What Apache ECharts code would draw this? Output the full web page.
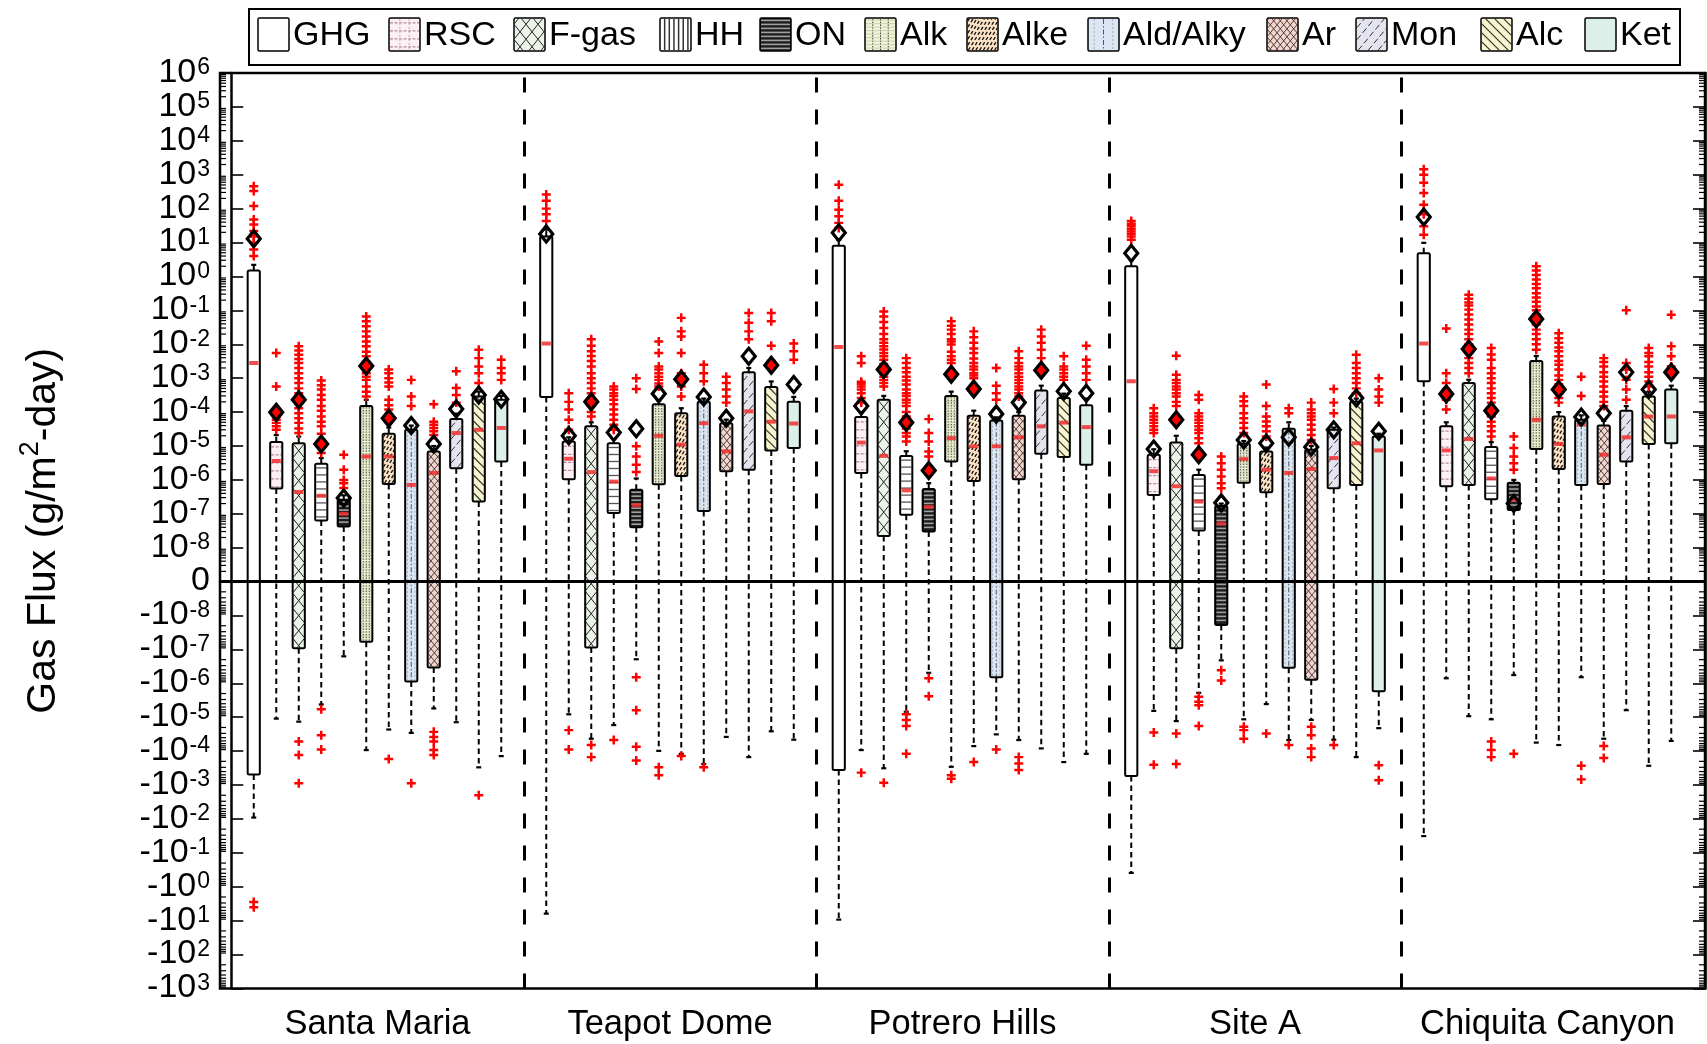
<!DOCTYPE html>
<html><head><meta charset="utf-8">
<script src="https://cdn.jsdelivr.net/npm/echarts@6/dist/echarts.min.js"></script>
<style>html,body{margin:0;padding:0;background:#fff}#c{width:1707px;height:1044px}</style>
</head><body><div id="c"></div>
<script>
// ---------------- DATA ----------------
const sites = ['Santa Maria', 'Teapot Dome', 'Potrero Hills', 'Site A', 'Chiquita Canyon'];
const groups = ['GHG', 'RSC', 'F-gas', 'HH', 'ON', 'Alk', 'Alke', 'Ald/Alky', 'Ar', 'Mon', 'Alc', 'Ket'];
// tick labels: exponents of positive and negative decades
const posExponents = [-8, -7, -6, -5, -4, -3, -2, -1, 0, 1, 2, 3, 4, 5, 6];
const negExponents = [-8, -7, -6, -5, -4, -3, -2, -1, 0, 1, 2, 3];

// each row = one site, 12 groups in legend order (g/m2-day)
const whiskerLow = [
  -9.1e-3, -1.1e-5, -1.35e-5, -4.2e-6, -1.6e-7, -9.3e-5, -2.3e-5, -2.9e-5, -5.5e-6, -1.4e-5, -3e-4, -1.4e-4,
  -6.2, -8.2e-6, -4.3e-5, -1.7e-5, -1.95e-7, -9.8e-5, -1.2e-4, -2.4e-4, -3.8e-5, -1.5e-4, -2.6e-5, -4.6e-5,
  -9.3, -9.3e-5, -3.2e-4, -6.9e-6, -4.9e-7, -2.9e-4, -7.1e-5, -3.2e-5, -4.7e-5, -8.3e-5, -2.1e-4, -1.2e-4,
  -0.39, -6.5e-6, -1.3e-5, -1.9e-6, -2.1e-7, -1.15e-5, -4.1e-6, -4.7e-5, -1.2e-5, -4.6e-5, -1.5e-4, -2.1e-5,
  -3.2e-2, -7.1e-7, -9.3e-6, -1.15e-5, -5.7e-7, -5.6e-5, -6.6e-5, -6.6e-7, -4.3e-5, -6.2e-6, -2.7e-4, -5e-5
];
const boxLow = [
  -4.9e-4, 5.6e-7, -9.3e-8, 6.3e-8, 4.2e-8, -5.9e-8, 7.6e-7, -8.9e-7, -3.4e-7, 2.2e-6, 2.3e-7, 3.5e-6,
  2.8e-4, 1.05e-6, -8.7e-8, 1.05e-7, 4e-8, 7.4e-7, 1.3e-6, 1.2e-7, 1.8e-6, 2e-6, 7.4e-6, 8.7e-6,
  -3.6e-4, 1.6e-6, 2.2e-8, 9.3e-8, 3e-8, 3.5e-6, 9.3e-7, -6.6e-7, 1.05e-6, 5.9e-6, 4.7e-6, 2.8e-6,
  -5.4e-4, 3.6e-7, -9.3e-8, 3.2e-8, -1.9e-8, 8.3e-7, 4.3e-7, -3.5e-7, -7.9e-7, 5.7e-7, 7.1e-7, -1.7e-6,
  8.1e-4, 6.5e-7, 7.1e-7, 2.7e-7, 1.3e-7, 8.1e-6, 2.1e-6, 7.1e-7, 7.6e-7, 3.5e-6, 1.15e-5, 1.2e-5
];
const median = [
  2.8e-3, 3.6e-6, 4.4e-7, 3.4e-7, 1e-7, 4.9e-6, 4.9e-6, 7.1e-7, 1.6e-6, 2.4e-5, 3e-5, 3.4e-5,
  1.05e-2, 4.2e-6, 1.7e-6, 8.9e-7, 1.8e-7, 2e-5, 1.1e-5, 4.7e-5, 6.9e-6, 1.05e-4, 5.2e-5, 4.6e-5,
  8.3e-3, 1.26e-5, 5.1e-6, 4.9e-7, 1.6e-7, 1.7e-5, 9.8e-6, 9.8e-6, 1.8e-5, 3.8e-5, 4.9e-5, 3.6e-5,
  8.1e-4, 1.8e-6, 6.5e-7, 2.3e-7, 5.2e-8, 4.1e-6, 2e-6, 1.6e-6, 2.1e-6, 4.4e-6, 1.2e-5, 7.4e-6,
  1.05e-2, 7.4e-6, 1.6e-5, 1.1e-6, 2.6e-7, 5.9e-5, 1.15e-5, 4.3e-5, 5.5e-6, 1.8e-5, 7.4e-5, 7.4e-5
];
const boxHigh = [
  1.5, 1.3e-5, 1.2e-5, 3e-6, 2.6e-7, 1.5e-4, 2.3e-5, 3e-5, 6.9e-6, 6.3e-5, 2.9e-4, 2.3e-4,
  15, 1.35e-5, 3.8e-5, 1.2e-5, 5.1e-7, 1.7e-4, 9.3e-5, 2e-4, 4.7e-5, 1.5e-3, 5.5e-4, 2e-4,
  8.1, 7.1e-5, 2.3e-4, 5.1e-6, 5.4e-7, 3e-4, 7.8e-5, 5.6e-5, 7.8e-5, 4.3e-4, 2.6e-4, 1.6e-4,
  2, 5.5e-6, 1.26e-5, 1.4e-6, 1.7e-7, 1.17e-5, 6.9e-6, 3.2e-5, 7.8e-6, 3e-5, 2e-4, 1.9e-5,
  4.8, 3.8e-5, 7.2e-4, 9.3e-6, 8.3e-7, 3.2e-3, 7.4e-5, 5.9e-5, 4e-5, 1.1e-4, 2.9e-4, 4.6e-4
];
const whiskerHigh = [
  2.2, 2.1e-5, 1.9e-5, 4.4e-6, 3.5e-7, 2.3e-4, 3.5e-5, 4e-5, 1e-5, 9e-5, 4e-4, 3e-4,
  24, 1.8e-5, 5e-5, 1.6e-5, 1.1e-6, 2.2e-4, 1.3e-4, 2.5e-4, 6e-5, 2e-3, 8e-4, 2.8e-4,
  12, 1e-4, 3e-4, 7e-6, 8e-7, 4e-4, 1.1e-4, 7e-5, 1e-4, 6e-4, 3.5e-4, 2.5e-4,
  3, 8e-6, 2e-5, 2e-6, 2e-7, 1.4e-5, 9e-6, 5e-5, 1e-5, 3.5e-5, 2.5e-4, 2.3e-5,
  9.8, 5e-5, 9e-4, 1.3e-5, 1e-6, 4.5e-3, 1e-4, 8e-5, 5.5e-5, 1.5e-4, 4e-4, 6e-4
];
const mean = [
  13, 9.8e-5, 2.3e-4, 1.15e-5, 2.9e-7, 2.3e-3, 6.6e-5, 4e-5, 1.15e-5, 1.23e-4, 3.2e-4, 2.4e-4,
  18, 2e-5, 2e-4, 2.5e-5, 3.2e-5, 3.5e-4, 9.3e-4, 2.8e-4, 6.6e-5, 4.4e-3, 2.4e-3, 6.5e-4,
  19.5, 1.5e-4, 1.8e-3, 4.9e-5, 1.9e-6, 1.3e-3, 4.8e-4, 8.7e-5, 1.9e-4, 1.7e-3, 4.1e-4, 3.6e-4,
  4.8, 8.1e-6, 5.9e-5, 5.5e-6, 2.1e-7, 1.5e-5, 1.2e-5, 1.8e-5, 9.3e-6, 3e-5, 2.6e-4, 2.7e-5,
  57, 3.4e-4, 7.2e-3, 1.1e-4, 2e-7, 5.6e-2, 4.6e-4, 7.1e-5, 9.3e-5, 1.5e-3, 4.6e-4, 1.5e-3
];
// 1 = mean marker filled red, 0 = open
const meanFilled = [
  0, 1, 1, 1, 0, 1, 1, 0, 0, 0, 0, 0,
  0, 0, 1, 0, 0, 0, 1, 0, 0, 0, 1, 0,
  0, 0, 1, 1, 1, 1, 1, 0, 0, 1, 0, 0,
  0, 0, 1, 1, 0, 0, 0, 0, 0, 0, 0, 0,
  0, 1, 1, 1, 0, 1, 1, 0, 0, 0, 0, 1
];
const outliers = [
  // Santa Maria
  [4, 6.2, 9.8, 15, 22, 34, 48, 120, 330, 460, -2.8, -4],
  [3e-5, 3.8e-5, 4.8e-5, 5.9e-5, 7.4e-5, 9.3e-5, 5.7e-4, 5.5e-3],
  [2.4e-5, 3.3e-5, 4.8e-5, 6.6e-5, 9.3e-5, 1.3e-4, 1.9e-4, 2.6e-4, 3.6e-4, 5e-4, 7.2e-4, 1e-3, 1.4e-3, 2e-3, 2.8e-3, 3.7e-3, 4.9e-3, 6.5e-3, 8.7e-3, -5.2e-5, -1.3e-4, -8.9e-4],
  [6.2e-6, 9e-6, 1.5e-5, 2.3e-5, 3.8e-5, 5.2e-5, 7.4e-5, 1.1e-4, 1.5e-4, 2.3e-4, 3.2e-4, 4.6e-4, 6.2e-4, 8.5e-4, -5.8e-6, -3.4e-5, -8.9e-5],
  [5.8e-7, 7.9e-7, 1e-6, 2e-6, 5.5e-6],
  [2.9e-4, 4e-4, 5.7e-4, 8.9e-4, 1.1e-3, 1.4e-3, 2e-3, 3e-3, 4.4e-3, 6e-3, 8.7e-3, 1.2e-2, 1.7e-2, 2.4e-2, 3.4e-2, 4.8e-2, 6.6e-2],
  [1.2e-4, 1.6e-4, 2.3e-4, 5.7e-4, 7.5e-4, 1e-3, 1.4e-3, 1.8e-3, -1.7e-4],
  [1.5e-4, 2.9e-4, 8.9e-4, -8.9e-4],
  [2.1e-5, 2.7e-5, 3.4e-5, 4.2e-5, 5.2e-5, 1.7e-4, -2.7e-5, -3.8e-5, -5.2e-5, -9.3e-5, -1.3e-4],
  [1.9e-4, 3.2e-4, 5.1e-4, 1.6e-3],
  [7.2e-4, 1.4e-3, 2.2e-3, 3.9e-3, 6.9e-3, -2e-3],
  [8.9e-4, 1.4e-3, 2e-3, 3.5e-3],
  // Teapot Dome
  [43, 68, 100, 170, 260],
  [3e-5, 5.9e-5, 1.2e-4, 2e-4, 3.6e-4, -2.4e-5, -8.9e-5],
  [7.4e-5, 1e-4, 1.5e-4, 2.5e-4, 3.6e-4, 5e-4, 7.2e-4, 1e-3, 1.4e-3, 2.2e-3, 3.2e-3, 4.5e-3, 6.2e-3, 9e-3, 1.4e-2, -6.6e-5, -1.5e-4],
  [3e-5, 4.2e-5, 5.9e-5, 8.5e-5, 1.2e-4, 1.7e-4, 2.3e-4, 3e-4, 3.6e-4, 4.6e-4, 5.7e-4, -4.7e-5],
  [1.7e-6, 2.8e-6, 4.9e-6, 9.8e-6, 4.8e-4, 1e-3, -6.6e-7, -6.2e-6, -7.4e-5, -1.9e-4],
  [5.7e-4, 7e-4, 8.9e-4, 1.1e-3, 1.4e-3, 1.8e-3, 2.2e-3, 5.5e-3, 1.2e-2, -3e-4, -5.1e-4],
  [2.9e-4, 5.7e-4, 1.4e-3, 5.5e-3, 1.7e-2, 2.4e-2, 6e-2, -1.4e-4],
  [8.1e-4, 1.4e-3, 2.5e-3, -3e-4],
  [1.9e-4, 2.9e-4, 4.6e-4, 7.2e-4, 1.1e-3],
  [1.4e-2, 2.4e-2, 4.3e-2, 8.3e-2],
  [3.2e-3, 9.1e-3, 4.8e-2, 8.3e-2],
  [3.5e-3, 6.2e-3, 1.05e-2],
  // Potrero Hills
  [27, 38, 60, 93, 170, 510],
  [1.9e-4, 2.6e-4, 3.6e-4, 4.6e-4, 5.7e-4, 6.8e-4, 7.9e-4, 2.8e-3, 4.4e-3, -4.3e-4],
  [5.7e-4, 7.2e-4, 8.9e-4, 1.1e-3, 1.4e-3, 1.8e-3, 2.6e-3, 3.5e-3, 4.4e-3, 5.5e-3, 7e-3, 8.7e-3, 1.1e-2, 1.4e-2, 2e-2, 3e-2, 4.5e-2, 6.6e-2, 9.3e-2, -8.5e-4],
  [1.35e-5, 1.9e-5, 2.4e-5, 3.3e-5, 5e-5, 7.4e-5, 1e-4, 1.5e-4, 1.9e-4, 2.3e-4, 3e-4, 3.6e-4, 4.6e-4, 6.5e-4, 8.5e-4, 1.1e-3, 1.5e-3, 2e-3, 2.8e-3, 3.9e-3, -8.1e-6, -1.2e-5, -1.8e-5, -1.2e-4],
  [4.9e-6, 6.9e-6, 1.35e-5, 2.4e-5, 6.2e-5, -7.1e-7, -2.4e-6],
  [2.8e-3, 3.5e-3, 4.4e-3, 6e-3, 9.8e-3, 1.2e-2, 1.4e-2, 2e-2, 2.7e-2, 3.5e-2, 4.8e-2, -5.1e-4, -6.5e-4],
  [1e-3, 1.2e-3, 1.4e-3, 1.8e-3, 2.2e-3, 2.8e-3, 3.8e-3, 5.5e-3, 7.5e-3, 1.1e-2, 1.6e-2, 2.4e-2, -2.1e-4],
  [2.3e-4, 3.6e-4, 6e-4, 2e-3, -8.9e-5],
  [2.9e-4, 3.6e-4, 4.6e-4, 5.7e-4, 7.2e-4, 8.9e-4, 1.1e-3, 1.4e-3, 1.8e-3, 2.2e-3, 2.8e-3, 3.9e-3, 6.2e-3, -1.5e-4, -2.3e-4, -3.6e-4],
  [1.8e-3, 3.9e-3, 6.9e-3, 1.1e-2, 1.7e-2, 2.7e-2],
  [8.9e-4, 1.1e-3, 1.4e-3, 1.8e-3, 2.2e-3, 4.4e-3],
  [8.9e-4, 1.4e-3, 2.2e-3, 3.5e-3, 9.1e-3],
  // Site A
  [12, 15, 18, 21, 25, 30, 36, 43],
  [2.4e-5, 3e-5, 3.8e-5, 4.8e-5, 5.9e-5, 7.4e-5, 9.3e-5, 1.3e-4, -2.8e-5, -2.5e-4],
  [1.5e-4, 2e-4, 2.9e-4, 3.6e-4, 4.6e-4, 5.7e-4, 7.2e-4, 8.9e-4, 1.26e-3, 4.6e-3, -3e-5, -2.4e-4],
  [1.2e-5, 1.7e-5, 2.4e-5, 3e-5, 3.8e-5, 4.8e-5, 5.9e-5, 7.4e-5, 9.3e-5, 2.3e-4, 3.2e-4, -2.5e-6, -3.5e-6, -4.4e-6, -1.8e-5],
  [5.7e-7, 7.9e-7, 1.26e-6, 2e-6, 3.1e-6, 4.9e-6, -4.1e-7, -8.3e-7],
  [2.4e-5, 3.4e-5, 4.8e-5, 6.6e-5, 9.3e-5, 1.5e-4, 2.1e-4, 2.9e-4, -1.9e-5, -2.4e-5, -4.3e-5],
  [1.9e-5, 2.7e-5, 3.8e-5, 5.3e-5, 7.4e-5, 1.5e-4, 6.5e-4, -3e-5],
  [9.3e-5, 1.3e-4, -6.6e-5],
  [1.5e-5, 2.1e-5, 3e-5, 4.2e-5, 5.9e-5, 7.4e-5, 9.3e-5, 1.2e-4, 1.9e-4, -1.9e-5, -3.4e-5, -8.3e-5, -1.5e-4],
  [9.3e-5, 1.9e-4, 4.8e-4, -6.6e-5],
  [3.6e-4, 5e-4, 7.2e-4, 1e-3, 1.4e-3, 2e-3, 2.8e-3, 4.9e-3],
  [1.9e-4, 2.9e-4, 4.6e-4, 1e-3, -2.6e-4, -7.2e-4],
  // Chiquita Canyon
  [17, 30, 68, 130, 290, 580, 1000, 1450],
  [1.2e-4, 2.3e-4, 4.6e-4, 7.2e-4, 1.4e-3, 2.9e-2],
  [1.4e-3, 2e-3, 2.8e-3, 3.9e-3, 5.5e-3, 7.7e-3, 1e-2, 1.4e-2, 2e-2, 2.7e-2, 3.8e-2, 5.4e-2, 7.5e-2, 0.105, 0.14, 0.17, 0.22, 0.29],
  [1.9e-5, 2.7e-5, 3.8e-5, 5.2e-5, 7.4e-5, 1e-4, 1.4e-4, 1.9e-4, 2.6e-4, 3.6e-4, 5e-4, 7.2e-4, 1e-3, 1.4e-3, 2e-3, 3.5e-3, 5e-3, 7.8e-3, -5.2e-5, -9.3e-5, -1.5e-4],
  [2e-6, 3.1e-6, 4.9e-6, 8.7e-6, 1.9e-5, -1.2e-4],
  [6.9e-3, 1e-2, 1.4e-2, 2e-2, 2.7e-2, 3.8e-2, 5.4e-2, 7.5e-2, 0.1, 0.13, 0.18, 0.24, 0.32, 0.45, 0.6, 0.81, 1.1, 1.5, 2],
  [1.9e-4, 2.6e-4, 3.6e-4, 5e-4, 6.5e-4, 8.9e-4, 1.2e-3, 1.8e-3, 2.5e-3, 3.2e-3, 4.4e-3, 6.2e-3, 8e-3, 1.1e-2, 1.5e-2, 2.1e-2],
  [3e-4, 1.1e-3, -2.7e-4, -6.8e-4],
  [1.5e-4, 2e-4, 2.9e-4, 4e-4, 5.7e-4, 8e-4, 1.1e-3, 1.5e-3, 2.2e-3, 3e-3, 3.9e-3, -7.1e-5, -1.6e-4],
  [2.3e-4, 4.6e-4, 8.9e-4, 1.8e-3, 2.8e-3, 0.1],
  [5.7e-4, 8e-4, 1.1e-3, 1.5e-3, 2.2e-3, 3e-3, 4.4e-3, 5.5e-3, 7.8e-3],
  [2.2e-3, 4.4e-3, 8.7e-3, 7.4e-2]
];

// ---------------- STYLE ----------------
const FONT = '"Liberation Sans", Arial, Helvetica, sans-serif';
const FILL = ['#ffffff', '#fcf0f5', '#ecf4ea', '#ffffff', '#1e1e1e', '#eff3d7',
              '#fce3c6', '#dae6f2', '#f6d4cc', '#e4e4ef', '#f8f4cd', '#ddefe9'];

// symmetric-log transform used by the axis (one decade per unit, 1e-8 -> 1)
function tf(v) { return v === 0 ? 0 : Math.sign(v) * (Math.log10(Math.abs(v)) + 9); }
const slotOf = (s, g) => s * 13 + g + 1;

function clip(x1, y1, x2, y2, xmin, ymin, xmax, ymax) {
  let t0 = 0, t1 = 1; const dx = x2 - x1, dy = y2 - y1;
  const p = [-dx, dx, -dy, dy], q = [x1 - xmin, xmax - x1, y1 - ymin, ymax - y1];
  for (let i = 0; i < 4; i++) {
    if (p[i] === 0) { if (q[i] < 0) return null; }
    else {
      const r = q[i] / p[i];
      if (p[i] < 0) { if (r > t1) return null; if (r > t0) t0 = r; }
      else { if (r < t0) return null; if (r < t1) t1 = r; }
    }
  }
  if (t1 - t0 < 1e-6) return null;
  return [x1 + t0 * dx, y1 + t0 * dy, x1 + t1 * dx, y1 + t1 * dy];
}
function ln(x1, y1, x2, y2, stroke, lw, dash) {
  return { type: 'line', silent: true, shape: { x1, y1, x2, y2 }, style: { stroke, lineWidth: lw, lineDash: dash || null, fill: null } };
}
function patternLines(cat, x0, y0, w, h, legend) {
  const out = [];
  const hl = (step, stroke, lw, dash) => { for (let y = y0 + step * 0.6; y < y0 + h - 1; y += step) out.push(ln(x0 + 1, y, x0 + w - 1, y, stroke, lw, dash)); };
  const vl = (fr, stroke, lw, dash) => fr.forEach(f => out.push(ln(x0 + w * f, y0 + 1, x0 + w * f, y0 + h - 1, stroke, lw, dash)));
  const dg = (m, step, stroke, lw, dash) => {
    const span = Math.abs(m) * w;
    for (let c = -span - step; c <= h + span + step; c += step) {
      const s = clip(x0, y0 + c, x0 + w, y0 + c + m * w, x0 + 0.8, y0 + 0.8, x0 + w - 0.8, y0 + h - 0.8);
      if (s) out.push(ln(s[0], s[1], s[2], s[3], stroke, lw, dash));
    }
  };
  switch (cat) {
    case 1: hl(8, '#b48c9a', 1.2, [3, 1.5]); if (legend) vl([0.35, 0.65], '#c8a8b4', 1, [2, 2]); break;
    case 2: dg(1.25, 15, '#222', 1); dg(-1.25, 15, '#222', 1); break;
    case 3: if (legend) vl([0.15, 0.3, 0.45, 0.6, 0.75, 0.9], '#333', 1.5); else hl(7, '#555', 1.3); break;
    case 4: hl(4, '#a0a0a0', 1.6); break;
    case 5: vl([0.25, 0.5, 0.75], '#333', 1, [1.5, 1.2]); hl(3.5, '#c2c9a2', 0.8); break;
    case 6: dg(-1.6, 6, '#111', 1.3, [3.5, 2.5]); break;
    case 7: vl([0.5], '#555', 1, [5, 2, 1.5, 2]); vl([0.2, 0.8], '#98a6b6', 0.8, [2, 2]); break;
    case 8: dg(1.2, 8, '#333', 0.9); dg(-1.2, 8, '#333', 0.9); break;
    case 9: dg(-1.2, 12, '#333', 1, [6, 3]); break;
    case 10: dg(1.0, 9, '#333', 1.2); break;
  }
  return out;
}

// ---------------- SERIES DATA ----------------
const boxData = [], outData = [], meanData = [];
for (let s = 0; s < sites.length; s++) {
  for (let g = 0; g < groups.length; g++) {
    const i = s * 12 + g, x = slotOf(s, g);
    boxData.push([x, tf(whiskerLow[i]), tf(boxLow[i]), tf(median[i]), tf(boxHigh[i]), tf(whiskerHigh[i]), g]);
    outliers[i].forEach(v => outData.push([x, tf(v)]));
    meanData.push({ value: [x, tf(mean[i])], itemStyle: { color: meanFilled[i] ? '#ff0000' : 'rgba(255,255,255,0)' } });
  }
}
const minorTicks = [];
for (let k = 0; k < 15; k++) for (let m = 2; m <= 9; m++) minorTicks.push([0, k + Math.log10(m)]);
for (let k = 0; k < 12; k++) for (let m = 2; m <= 9; m++) minorTicks.push([0, -(k + Math.log10(m))]);
const siteLabelData = sites.map((n, s) => [s * 13 + 6.5, -12, n]);

function renderBox(params, api) {
  const slot = api.value(0), cat = api.value(6);
  const cx = api.coord([slot, 0])[0];
  const hw = api.size([1, 0])[0] * 0.27;
  const yWL = api.coord([slot, api.value(1)])[1];
  const yQ1 = api.coord([slot, api.value(2)])[1];
  const yMd = api.coord([slot, api.value(3)])[1];
  const yQ3 = api.coord([slot, api.value(4)])[1];
  const yWH = api.coord([slot, api.value(5)])[1];
  const kids = [];
  const dash = [5.5, 4];
  kids.push(ln(cx, yQ1, cx, yWL, '#000', 2, dash));
  kids.push(ln(cx, yQ3, cx, yWH, '#000', 2, dash));
  kids.push(ln(cx - 2.5, yWL, cx + 2.5, yWL, '#000', 2.2));
  kids.push(ln(cx - 2.5, yWH, cx + 2.5, yWH, '#000', 2.2));
  const x0 = cx - hw, y0 = yQ3, w = 2 * hw, h = yQ1 - yQ3;
  kids.push({ type: 'rect', silent: true, shape: { x: x0, y: y0, width: w, height: h }, style: { fill: FILL[cat] } });
  patternLines(cat, x0, y0, w, h, false).forEach(e => kids.push(e));
  kids.push({ type: 'rect', silent: true, shape: { x: x0, y: y0, width: w, height: h, r: 1.5 }, style: { fill: null, stroke: '#000', lineWidth: 2 } });
  kids.push(ln(x0 + 1.5, yMd, x0 + w - 1.5, yMd, 'rgba(240,45,45,0.85)', 4));
  return { type: 'group', children: kids };
}
function renderMinor(params, api) {
  const cs = params.coordSys;
  const y = api.coord([0, api.value(1)])[1];
  return { type: 'group', children: [
    ln(cs.x, y, cs.x + 6, y, '#000', 1.2),
    ln(cs.x + cs.width - 6, y, cs.x + cs.width, y, '#000', 1.2)
  ] };
}
function renderSiteLabel(params, api) {
  const p = api.coord([api.value(0), api.value(1)]);
  return { type: 'text', x: p[0], y: p[1] + 36, style: {
    text: siteLabelData[params.dataIndex][2], fontSize: 34.5, fontFamily: FONT, fill: '#000',
    align: 'center', verticalAlign: 'middle', textAlign: 'center', textVerticalAlign: 'middle' } };
}
function yLabel(v) {
  const t = Math.round(v);
  if (t === 0) return '{b|0}';
  if (t > 0) return '{b|10}{s|' + posExponents[t - 1] + '}';
  return '{b|-10}{s|' + negExponents[-t - 1] + '}';
}

// ---------------- LEGEND (graphic) ----------------
const legendX = [258, 389, 514, 660, 760, 865, 967, 1088, 1267, 1356, 1481, 1585];
const legendEls = [{ type: 'rect', shape: { x: 249, y: 9, width: 1431, height: 56 }, style: { fill: '#fff', stroke: '#000', lineWidth: 2 }, z: 10 }];
groups.forEach((g, i) => {
  const x0 = legendX[i], y0 = 18, w = 31, h = 33;
  legendEls.push({ type: 'rect', shape: { x: x0, y: y0, width: w, height: h }, style: { fill: FILL[i] }, z: 11 });
  patternLines(i, x0, y0, w, h, true).forEach(e => { e.z = 12; legendEls.push(e); });
  legendEls.push({ type: 'rect', shape: { x: x0, y: y0, width: w, height: h, r: 1.5 }, style: { fill: null, stroke: '#000', lineWidth: 1.5 }, z: 13 });
  legendEls.push({ type: 'text', x: x0 + w + 4, y: 36, z: 13, style: { text: g, fontSize: 34, fontFamily: FONT, fill: '#000',
    verticalAlign: 'middle', textVerticalAlign: 'middle', align: 'left', textAlign: 'left' } });
});

// ---------------- CHART ----------------
const chart = echarts.init(document.getElementById('c'), null, { renderer: 'canvas' });
const yCommon = {
  type: 'value', min: -12, max: 15, interval: 1,
  axisLine: { show: true, lineStyle: { color: '#000', width: 2.5 } },
  axisTick: { show: true, inside: true, length: 12, lineStyle: { color: '#000', width: 1.6 } },
  splitLine: { show: false }
};
chart.setOption({
  animation: false,
  backgroundColor: '#fff',
  grid: { left: 220, right: 2, top: 73, bottom: 55.5, show: true, borderColor: '#000', borderWidth: 2.5 },
  xAxis: { type: 'value', min: -0.5, max: 65.5,
    axisLine: { show: true, lineStyle: { color: '#000', width: 2.5 } },
    axisTick: { show: false }, axisLabel: { show: false }, splitLine: { show: false } },
  yAxis: [
    Object.assign({}, yCommon, {
      position: 'left',
      axisLabel: { formatter: yLabel, margin: 10, color: '#000', showMinLabel: true, showMaxLabel: true, hideOverlap: false,
        rich: { b: { fontSize: 34, lineHeight: 33, verticalAlign: 'bottom', fontFamily: FONT, color: '#000' },
                s: { fontSize: 23, lineHeight: 1, verticalAlign: 'top', fontFamily: FONT, color: '#000', padding: [0, 0, 0, 1] } } },
      name: '{a|Gas Flux (g/m}{s|2}{a|-day)}', nameLocation: 'middle', nameGap: 150, nameRotate: 90,
      nameTextStyle: { color: '#000', rich: {
        a: { fontSize: 41, fontFamily: FONT, color: '#000' },
        s: { fontSize: 27, fontFamily: FONT, color: '#000', padding: [0, 0, 26, 0] } } }
    }),
    Object.assign({}, yCommon, { position: 'right', axisLabel: { show: false } })
  ],
  graphic: { elements: legendEls },
  series: [
    { type: 'custom', name: 'boxes', renderItem: renderBox, data: boxData, encode: { x: 0, y: [1, 2, 3, 4, 5] }, z: 2, silent: true },
    { type: 'scatter', name: 'outliers', data: outData, z: 3, silent: true,
      symbol: 'path://M2.9,0H5.1V2.9H8V5.1H5.1V8H2.9V5.1H0V2.9H2.9Z', symbolSize: 9,
      itemStyle: { color: '#ff0000', opacity: 1 },
      markLine: { silent: true, symbol: 'none', label: { show: false }, animation: false,
        data: [
          { yAxis: 0, lineStyle: { color: '#000', width: 3, type: 'solid' } },
          { xAxis: 13, lineStyle: { color: '#000', width: 3, type: [15, 17] } },
          { xAxis: 26, lineStyle: { color: '#000', width: 3, type: [15, 17] } },
          { xAxis: 39, lineStyle: { color: '#000', width: 3, type: [15, 17] } },
          { xAxis: 52, lineStyle: { color: '#000', width: 3, type: [15, 17] } }
        ] } },
    { type: 'scatter', name: 'mean', data: meanData, z: 4, silent: true, symbol: 'diamond', symbolSize: [13, 16],
      itemStyle: { borderColor: '#000', borderWidth: 3.2, opacity: 1 } },
    { type: 'custom', name: 'minorTicks', renderItem: renderMinor, data: minorTicks, encode: { x: 0, y: 1 }, z: 6, silent: true },
    { type: 'custom', name: 'siteLabels', renderItem: renderSiteLabel, data: siteLabelData, encode: { x: 0, y: 1 }, z: 6, silent: true, clip: false }
  ]
});
</script></body></html>
